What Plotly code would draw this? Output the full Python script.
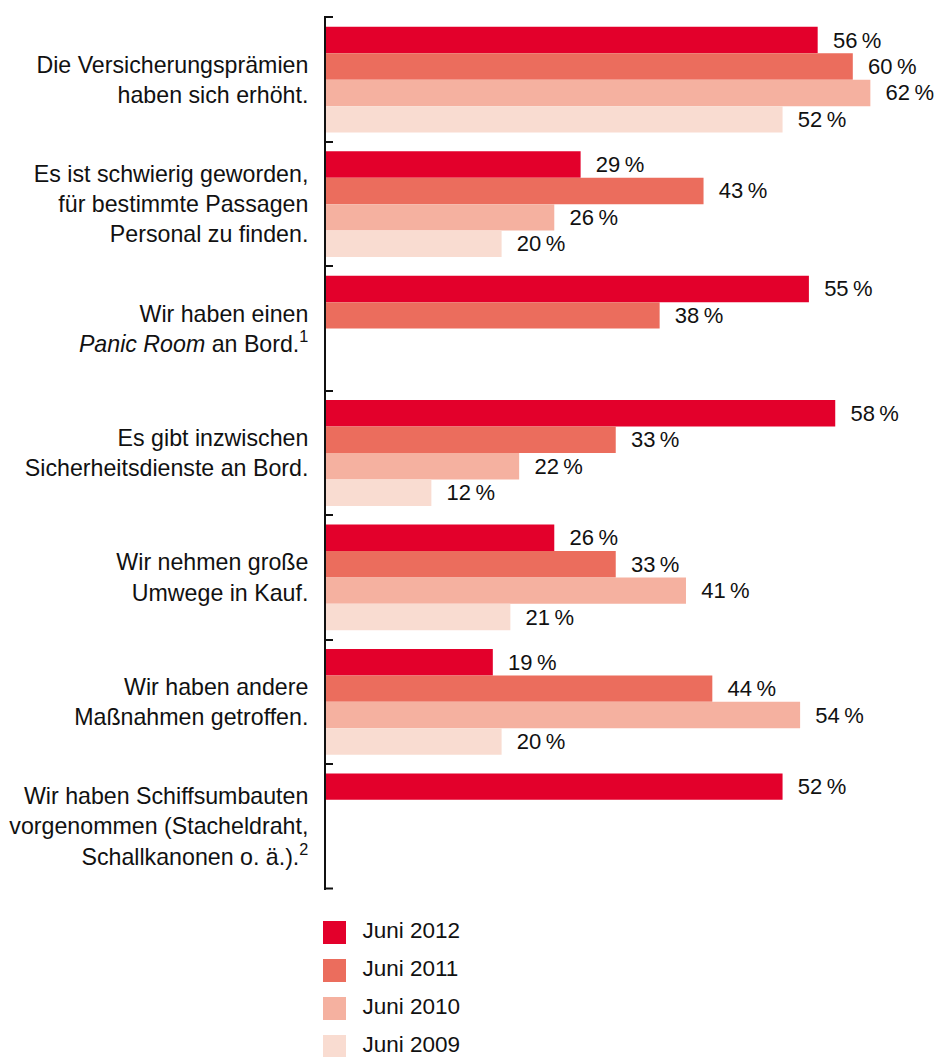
import plotly.graph_objects as go

# ---------------- data ----------------
categories = [
    "Die Versicherungsprämien<br>haben sich erhöht.",
    "Es ist schwierig geworden,<br>für bestimmte Passagen<br>Personal zu finden.",
    "Wir haben einen<br><i>Panic Room</i> an Bord.<sup>1</sup>",
    "Es gibt inzwischen<br>Sicherheitsdienste an Bord.",
    "Wir nehmen große<br>Umwege in Kauf.",
    "Wir haben andere<br>Maßnahmen getroffen.",
    "Wir haben Schiffsumbauten<br>vorgenommen (Stacheldraht,<br>Schallkanonen o. ä.).<sup>2</sup>",
]
series_names = ["Juni 2012", "Juni 2011", "Juni 2010", "Juni 2009"]
juni_2012 = [56, 29, 55, 58, 26, 19, 52]
juni_2011 = [60, 43, 38, 33, 33, 44, None]
juni_2010 = [62, 26, None, 22, 41, 54, None]
juni_2009 = [52, 20, None, 12, 21, 20, None]
series_values = [juni_2012, juni_2011, juni_2010, juni_2009]
colors = ["#E3002B", "#EB6D5D", "#F5B1A0", "#F9DCD1"]

# ---------------- layout constants (pixels) ----------------
W, H = 937, 1057
PLOT_L, PLOT_R = 326, 932
PLOT_T, PLOT_B = 16, 890
PX_PER_PCT = 8.78
FONT = "Liberation Sans, Arial, Helvetica, sans-serif"
LBL_SIZE = 23.2
VAL_SIZE = 22
LEG_SIZE = 22.5
LEG_X0 = 323          # left edge of legend squares
LEG_SQ = 23           # legend square size
LEG_Y0 = 932.5        # centre of first legend row
LEG_STEP = 38         # row step
EPS = 0.012           # tiny range padding so boundary ticks at the ends are drawn
TICK_LEN = 7

fig = go.Figure()

for name, vals, col in zip(series_names, series_values, colors):
    cats = [c for c, v in zip(categories, vals) if v is not None]
    xs = [v for v in vals if v is not None]
    fig.add_trace(go.Bar(
        y=cats,
        x=xs,
        orientation="h",
        name=name,
        marker=dict(color=col, line=dict(width=0)),
        text=["\u00a0\u00a0" + f"{v}\u2009%" for v in xs],
        textposition="outside",
        textfont=dict(family=FONT, size=VAL_SIZE, color="#111111"),
        constraintext="none",
        cliponaxis=False,
        showlegend=False,
        xaxis="x",
        yaxis="y",
        hoverinfo="skip",
    ))

# legend drawn as square markers in a small auxiliary subplot
fig.add_trace(go.Scatter(
    x=[0] * len(series_names),
    y=list(range(len(series_names))),
    mode="markers+text",
    marker=dict(symbol="square", size=LEG_SQ, color=colors, line=dict(width=0)),
    text=["\u00a0\u00a0" + s for s in series_names],
    textposition="middle right",
    textfont=dict(family=FONT, size=LEG_SIZE, color="#111111"),
    cliponaxis=False,
    showlegend=False,
    xaxis="x2",
    yaxis="y2",
    hoverinfo="skip",
))

x_max = (PLOT_R - PLOT_L) / PX_PER_PCT
leg_top = (PLOT_B - LEG_Y0) / LEG_STEP
leg_bot = (H - LEG_Y0) / LEG_STEP
half = LEG_SQ / 2
n = len(categories)

fig.update_layout(
    width=W, height=H,
    margin=dict(l=0, r=0, t=0, b=0, pad=0),
    paper_bgcolor="white",
    plot_bgcolor="white",
    barmode="group",
    bargap=0.15,
    bargroupgap=0,
    showlegend=False,
    font=dict(family=FONT, size=LBL_SIZE, color="#111111"),
    xaxis=dict(
        domain=[PLOT_L / W, PLOT_R / W],
        range=[0, x_max],
        showticklabels=False, showgrid=False, zeroline=False, showline=False,
        ticks="", fixedrange=True,
    ),
    yaxis=dict(
        domain=[1 - PLOT_B / H, 1 - PLOT_T / H],
        type="category",
        categoryorder="array",
        categoryarray=categories,
        range=[n - 0.5 + EPS, -0.5 - EPS],
        showline=True, linecolor="#111111", linewidth=2,
        ticks="inside", tickson="boundaries", ticklen=TICK_LEN, tickwidth=2,
        tickcolor="#111111",
        ticklabelstandoff=11,
        tickfont=dict(family=FONT, size=LBL_SIZE, color="#111111"),
        showgrid=False, zeroline=False, automargin=False, fixedrange=True,
    ),
    xaxis2=dict(
        domain=[LEG_X0 / W, 1],
        range=[-half, W - LEG_X0 - half],
        visible=False, fixedrange=True,
    ),
    yaxis2=dict(
        domain=[0, 1 - PLOT_B / H],
        range=[leg_bot, leg_top],
        visible=False, fixedrange=True,
    ),
    # closing boundary tick at the bottom end of the category axis
    shapes=[dict(
        type="line", xref="x", yref="y",
        xsizemode="pixel", xanchor=0, x0=-1, x1=TICK_LEN,
        y0=n - 0.5, y1=n - 0.5,
        line=dict(color="#111111", width=2),
        layer="above",
    )],
)

fig.write_html(
    "out.html",
    config={"displayModeBar": False},
    post_script="document.body.style.margin='0';document.body.style.padding='0';document.body.style.overflow='hidden';",
)
